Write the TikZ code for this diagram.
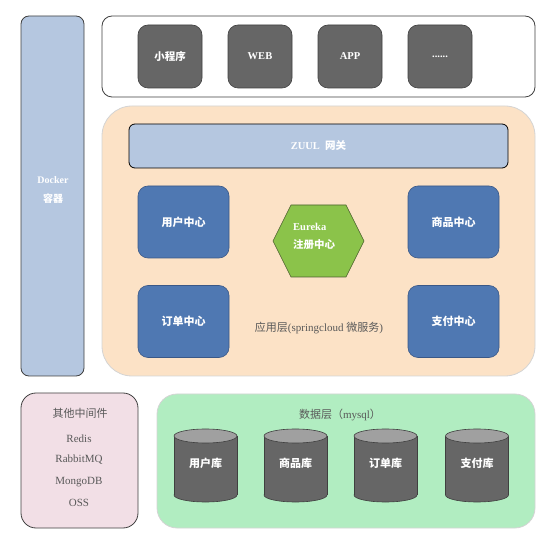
\documentclass[tikz,border=0pt]{standalone}
\usepackage{fontspec}
\setmainfont{Liberation Serif}
\newfontfamily\cjk{Noto Sans CJK SC}
\definecolor{dockerblue}{RGB}{181,199,224}
\definecolor{darkline}{RGB}{64,64,64}
\definecolor{clientgray}{RGB}{102,102,102}
\definecolor{peach}{RGB}{252,226,198}
\definecolor{svcblue}{RGB}{79,120,178}
\definecolor{svcline}{RGB}{58,88,135}
\definecolor{eurekagreen}{RGB}{139,195,74}
\definecolor{eurekaline}{RGB}{75,95,45}
\definecolor{pinkbg}{RGB}{242,223,230}
\definecolor{greenbg}{RGB}{177,237,193}
\definecolor{softline}{RGB}{212,212,212}
\definecolor{dbtop}{RGB}{160,160,160}
\definecolor{txtgray}{RGB}{89,89,89}
\begin{document}
\begin{tikzpicture}[x=1pt,y=-1pt,
  container/.style={draw=darkline, line width=0.8pt, rounded corners=#1},
  client/.style={draw=darkline, line width=0.6pt, fill=clientgray, rounded corners=10pt,
    minimum width=64pt, minimum height=63pt, inner sep=0pt, text=white, font=\bfseries\fontsize{10.5}{12}\selectfont},
  service/.style={draw=svcline, line width=0.6pt, fill=svcblue, rounded corners=10pt,
    minimum width=91pt, minimum height=72pt, inner sep=0pt, text=white, font=\bfseries\fontsize{11}{13}\selectfont},
  graytext/.style={text=txtgray, inner sep=0pt, font=\fontsize{11}{13}\selectfont},
  dbtext/.style={text=white, inner sep=0pt, font=\bfseries\fontsize{11}{13}\selectfont}
]
\useasboundingbox (0,0) rectangle (552,545);

% Docker column
\node[container=8pt, fill=dockerblue, minimum width=63pt, minimum height=360pt, inner sep=0pt] (docker) at (52.5,196) {};
\node[text=white, align=center, inner sep=0pt, font=\bfseries\fontsize{10}{19}\selectfont] (dockertxt) at (53,190) {Docker\\{\cjk 容器}};

% Client layer
\node[container=10pt, fill=white, minimum width=433pt, minimum height=81pt, inner sep=0pt] (clients) at (318.5,56.5) {};
\node[client] (mini) at (170,56.5) {\cjk 小程序};
\node[client] (web) at (260,56.5) {WEB};
\node[client] (app) at (350,56.5) {APP};
\node[client] (more) at (440,56.5) {......};

% Application layer
\node[draw=softline, line width=0.8pt, fill=peach, rounded corners=30pt, minimum width=433pt, minimum height=270pt, inner sep=0pt] (applayer) at (318.5,241) {};
\node[draw=black, line width=0.8pt, fill=dockerblue, rounded corners=6pt, minimum width=379pt, minimum height=44pt, inner sep=0pt,
  text=white, font=\bfseries\fontsize{10.5}{12}\selectfont] (zuul) at (318.5,146) {ZUUL\ \ {\cjk 网关}};

\node[service] (user) at (183.5,222) {\cjk 用户中心};
\node[service] (order) at (183.5,321.5) {\cjk 订单中心};
\node[service] (goods) at (453.5,222) {\cjk 商品中心};
\node[service] (pay) at (453.5,321.5) {\cjk 支付中心};

\draw[draw=eurekaline, line width=0.6pt, fill=eurekagreen]
  (273,241) -- (291,205) -- (346,205) -- (364,241) -- (346,277) -- (291,277) -- cycle;
\node[text=white, align=left, anchor=west, inner sep=0pt, font=\bfseries\fontsize{10.5}{18}\selectfont] (eureka) at (293,236) {Eureka\\{\cjk 注册中心}};

\node[graytext] (applabel) at (319,328) {{\cjk 应用层}(springcloud {\cjk 微服务})};

% Middleware
\node[container=15pt, fill=pinkbg, minimum width=117pt, minimum height=135pt, inner sep=0pt] (middleware) at (79.5,460.5) {};
\node[graytext] (mwtitle) at (80,413) {\cjk 其他中间件};
\node[graytext] (redis) at (79,439) {Redis};
\node[graytext] (rabbit) at (79,460) {RabbitMQ};
\node[graytext] (mongo) at (79,482) {MongoDB};
\node[graytext] (oss) at (79,503) {OSS};

% Data layer
\node[draw=softline, line width=0.8pt, fill=greenbg, rounded corners=20pt, minimum width=378pt, minimum height=134pt, inner sep=0pt] (datalayer) at (346,461) {};
\node[graytext] (datalabel) at (340,415) {{\cjk 数据层（}mysql{\cjk ）}};

\foreach \cx/\nm/\lbl in {205.5/dbuser/用户库, 295.5/dbgoods/商品库, 385.5/dborder/订单库, 477/dbpay/支付库}{
  \draw[draw=darkline, line width=0.6pt, fill=clientgray] (\cx,495) ellipse [x radius=31.5pt, y radius=7pt];
  \fill[clientgray] (\cx-31.5,436) rectangle (\cx+31.5,495);
  \draw[darkline, line width=0.6pt] (\cx-31.5,436) -- (\cx-31.5,495);
  \draw[darkline, line width=0.6pt] (\cx+31.5,436) -- (\cx+31.5,495);
  \draw[draw=darkline, line width=0.6pt, fill=dbtop] (\cx,436) ellipse [x radius=31.5pt, y radius=7pt];
  \node[dbtext] (\nm) at (\cx,463) {\cjk \lbl};
}
\end{tikzpicture}
\end{document}
